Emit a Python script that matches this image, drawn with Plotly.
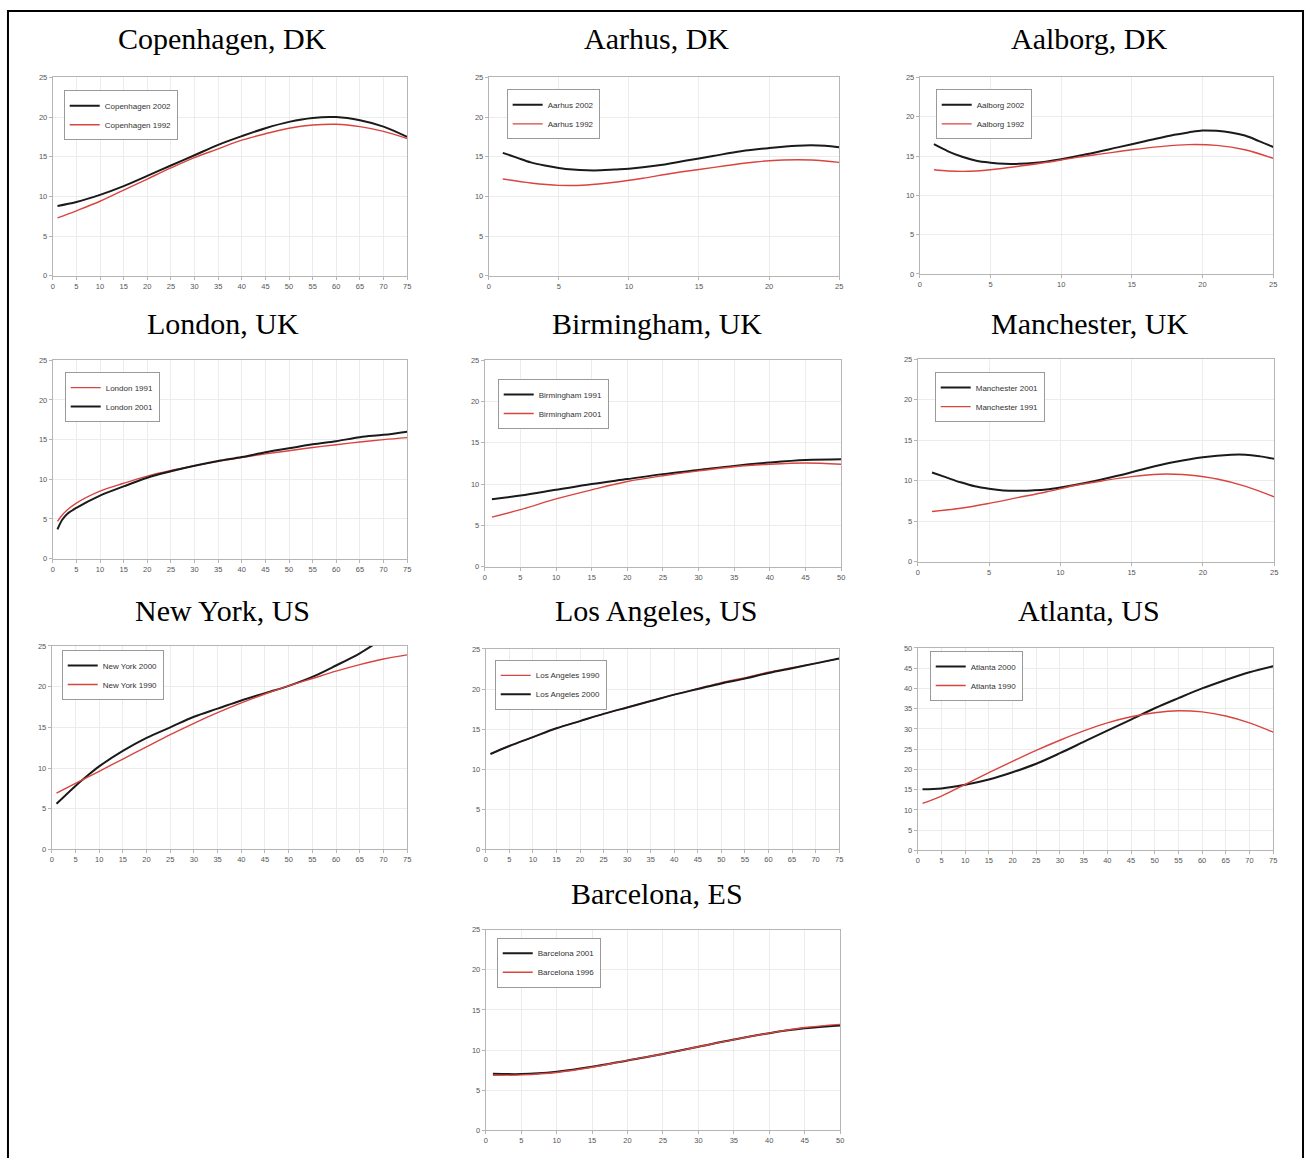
import plotly.graph_objects as go

W, H = 1311, 1158

# ---------------- data ----------------
cph_x = [1, 5, 10, 15, 20, 25, 30, 35, 40, 45, 50, 55, 60, 65, 70, 75]
cph_2002 = [8.8, 9.3, 10.2, 11.3, 12.6, 13.9, 15.2, 16.5, 17.6, 18.6, 19.4, 19.9, 20.0, 19.6, 18.8, 17.5]
cph_1992 = [7.3, 8.2, 9.4, 10.8, 12.2, 13.6, 14.9, 16.0, 17.1, 17.9, 18.6, 19.0, 19.1, 18.8, 18.2, 17.3]

aar_x_2002 = [1, 2, 3, 4, 5, 6, 7, 8, 9, 10, 12, 14, 16, 18, 20, 22, 23, 24, 25]
aar_2002 = [15.5, 14.9, 14.3, 13.9, 13.6, 13.4, 13.3, 13.3, 13.4, 13.5, 13.9, 14.5, 15.1, 15.7, 16.1, 16.4, 16.45, 16.4, 16.2]
aar_x_1992 = [1, 3, 5, 7, 9, 11, 13, 15, 17, 19, 21, 23, 25]
aar_1992 = [12.2, 11.7, 11.4, 11.45, 11.8, 12.3, 12.9, 13.4, 13.9, 14.35, 14.6, 14.6, 14.3]

aal_x_2002 = [1, 2, 3, 4, 5, 6, 7, 8, 10, 12, 14, 16, 18, 19, 20, 21, 22, 23, 24, 25]
aal_2002 = [16.5, 15.6, 14.9, 14.4, 14.15, 14.0, 14.0, 14.1, 14.6, 15.3, 16.1, 16.9, 17.7, 18.0, 18.25, 18.2, 18.0, 17.6, 16.9, 16.15]
aal_x_1992 = [1, 2, 3, 4, 5, 7, 9, 11, 13, 15, 17, 19, 21, 23, 25]
aal_1992 = [13.25, 13.1, 13.05, 13.1, 13.25, 13.7, 14.2, 14.8, 15.3, 15.8, 16.2, 16.45, 16.35, 15.8, 14.7]

lon_x = [1, 2, 3, 5, 10, 15, 20, 25, 30, 35, 40, 45, 50, 55, 60, 65, 70, 75]
lon_1991 = [4.7, 5.5, 6.1, 7.0, 8.5, 9.5, 10.4, 11.1, 11.7, 12.25, 12.75, 13.2, 13.6, 14.0, 14.35, 14.7, 15.0, 15.25]
lon_2001 = [3.7, 4.9, 5.6, 6.4, 7.95, 9.1, 10.2, 11.0, 11.7, 12.3, 12.8, 13.4, 13.9, 14.4, 14.8, 15.3, 15.6, 16.0]

bir_x = [1, 5, 10, 15, 20, 25, 30, 35, 40, 45, 50]
bir_1991 = [8.15, 8.6, 9.3, 10.0, 10.6, 11.2, 11.7, 12.2, 12.6, 12.9, 13.0]
bir_2001 = [6.0, 6.9, 8.2, 9.3, 10.3, 11.0, 11.6, 12.1, 12.4, 12.55, 12.4]

man_x_2001 = [1, 2, 3, 4, 5, 6, 7, 8, 9, 10, 12, 14, 16, 18, 20, 22, 23, 24, 25]
man_2001 = [11.0, 10.4, 9.8, 9.3, 9.0, 8.8, 8.75, 8.8, 8.9, 9.15, 9.8, 10.6, 11.5, 12.3, 12.9, 13.2, 13.2, 13.0, 12.7]
man_x_1991 = [1, 3, 5, 7, 9, 11, 13, 15, 17, 18, 19, 21, 23, 25]
man_1991 = [6.2, 6.6, 7.2, 7.9, 8.6, 9.4, 10.0, 10.5, 10.8, 10.8, 10.7, 10.2, 9.3, 8.0]

ny_x_2000 = [1, 5, 7, 10, 15, 20, 25, 30, 35, 40, 45, 50, 55, 60, 65, 68]
ny_2000 = [5.6, 7.8, 8.8, 10.2, 12.1, 13.7, 15.0, 16.3, 17.3, 18.3, 19.2, 20.1, 21.2, 22.6, 24.1, 25.2]
ny_x_1990 = [1, 5, 10, 15, 20, 25, 30, 35, 40, 45, 50, 55, 60, 65, 70, 75]
ny_1990 = [6.9, 8.1, 9.6, 11.1, 12.6, 14.1, 15.5, 16.8, 18.0, 19.1, 20.1, 21.0, 21.9, 22.7, 23.4, 23.9]

la_x = [1, 5, 10, 15, 20, 25, 30, 35, 40, 45, 50, 55, 60, 65, 70, 75]
la_1990 = [11.9, 12.9, 14.0, 15.1, 16.0, 16.9, 17.7, 18.5, 19.3, 20.05, 20.8, 21.4, 22.1, 22.65, 23.2, 23.8]
la_2000 = [11.9, 12.9, 14.0, 15.1, 16.0, 16.9, 17.7, 18.5, 19.3, 20.0, 20.7, 21.3, 22.0, 22.6, 23.2, 23.8]

atl_x = [1, 5, 10, 15, 20, 25, 30, 35, 40, 45, 50, 55, 60, 65, 70, 75]
atl_2000 = [15.1, 15.3, 16.2, 17.5, 19.3, 21.4, 24.0, 26.8, 29.6, 32.3, 35.1, 37.6, 40.0, 42.1, 44.0, 45.5]
atl_1990 = [11.6, 13.4, 16.3, 19.2, 22.0, 24.7, 27.2, 29.5, 31.5, 33.0, 34.0, 34.5, 34.2, 33.2, 31.5, 29.2]

bcn_x = [1, 5, 10, 15, 20, 25, 30, 35, 40, 45, 50]
bcn_2001 = [7.05, 7.0, 7.3, 7.9, 8.7, 9.5, 10.4, 11.3, 12.1, 12.7, 13.05]
bcn_1996 = [6.85, 6.9, 7.2, 7.85, 8.7, 9.5, 10.4, 11.3, 12.1, 12.8, 13.2]

titles = ["Copenhagen, DK", "Aarhus, DK", "Aalborg, DK",
          "London, UK", "Birmingham, UK", "Manchester, UK",
          "New York, US", "Los Angeles, US", "Atlanta, US",
          "Barcelona, ES"]
x_max = [75, 25, 25, 75, 50, 25, 75, 75, 75, 50]
y_max = [25, 25, 25, 25, 25, 25, 25, 25, 50, 25]

# series per panel: (name, x, y, colour key) in legend / drawing order
series = [
    [("Copenhagen 2002", cph_x, cph_2002, "k"), ("Copenhagen 1992", cph_x, cph_1992, "r")],
    [("Aarhus 2002", aar_x_2002, aar_2002, "k"), ("Aarhus 1992", aar_x_1992, aar_1992, "r")],
    [("Aalborg 2002", aal_x_2002, aal_2002, "k"), ("Aalborg 1992", aal_x_1992, aal_1992, "r")],
    [("London 1991", lon_x, lon_1991, "r"), ("London 2001", lon_x, lon_2001, "k")],
    [("Birmingham 1991", bir_x, bir_1991, "k"), ("Birmingham 2001", bir_x, bir_2001, "r")],
    [("Manchester 2001", man_x_2001, man_2001, "k"), ("Manchester 1991", man_x_1991, man_1991, "r")],
    [("New York 2000", ny_x_2000, ny_2000, "k"), ("New York 1990", ny_x_1990, ny_1990, "r")],
    [("Los Angeles 1990", la_x, la_1990, "r"), ("Los Angeles 2000", la_x, la_2000, "k")],
    [("Atlanta 2000", atl_x, atl_2000, "k"), ("Atlanta 1990", atl_x, atl_1990, "r")],
    [("Barcelona 2001", bcn_x, bcn_2001, "k"), ("Barcelona 1996", bcn_x, bcn_1996, "r")],
]

# ---------------- layout geometry (pixels) ----------------
# (left, right, top, bottom) of each plot area
boxes = [(51, 407, 74, 274), (489, 841, 74, 274), (922, 1277, 74, 272),
         (51, 407, 359, 559), (485, 843, 359, 567), (920, 1278, 358, 562),
         (50, 407, 647, 852), (486, 841, 650, 852), (920, 1277, 649, 853),
         (486, 842, 933, 1135)]
title_pos = [(222, 35), (658, 35), (1092, 35),
             (222, 322), (658, 322), (1092, 322),
             (222, 611), (658, 611), (1092, 611),
             (658, 896)]
legend_off = [(11, 13), (18, 12), (16, 12), (12, 12), (13, 19),
              (17, 13), (10, 4), (9, 11), (12, 3), (11, 8)]

colors = {"k": "#1a1a1a", "r": "#d9443f"}
widths = {"k": 2.0, "r": 1.4}

fig = go.Figure()
layout = dict(
    width=W, height=H,
    margin=dict(l=0, r=0, t=0, b=0),
    paper_bgcolor="white", plot_bgcolor="white",
    showlegend=True,
    annotations=[], shapes=[],
    font=dict(family="Liberation Sans, Arial", size=8, color="#555"),
)

for i in range(10):
    sfx = "" if i == 0 else str(i + 1)
    L, R, T, B = boxes[i]
    leg = "legend" if i == 0 else "legend" + str(i + 1)
    for name, xs, ys, c in series[i]:
        fig.add_trace(go.Scatter(
            x=xs, y=ys, name=name, mode="lines",
            line=dict(color=colors[c], width=widths[c], shape="spline", smoothing=1.0),
            xaxis="x" + sfx, yaxis="y" + sfx, legend=leg,
        ))
    axis_common = dict(
        showgrid=True, gridcolor="#ececec", gridwidth=1,
        showline=True, linecolor="#b5b5b5", linewidth=1, mirror=True,
        ticks="outside", ticklen=3, tickcolor="#b5b5b5",
        tickfont=dict(family="Liberation Sans, Arial", size=7.5, color="#555"),
        zeroline=False, fixedrange=True,
    )
    layout["xaxis" + sfx] = dict(
        axis_common, domain=[L / W, R / W], range=[0, x_max[i]],
        tickmode="linear", tick0=0, dtick=5,
        anchor="y" + sfx,
    )
    layout["yaxis" + sfx] = dict(
        axis_common, domain=[1 - B / H, 1 - T / H], range=[0, y_max[i]],
        tickmode="linear", tick0=0, dtick=5,
        anchor="x" + sfx,
    )
    dx, dy = legend_off[i]
    layout[leg] = dict(
        x=(L + dx) / W, y=1 - (T + dy) / H, xanchor="left", yanchor="top",
        xref="paper", yref="paper",
        bgcolor="white", bordercolor="#9a9a9a", borderwidth=1,
        font=dict(family="Liberation Sans, Arial", size=8, color="#333"),
        itemwidth=30, tracegroupgap=0,
    )
    tx, ty = title_pos[i]
    layout["annotations"].append(dict(
        text=titles[i], x=tx / W, y=1 - ty / H, xref="paper", yref="paper",
        xanchor="center", yanchor="middle", showarrow=False,
        font=dict(family="Liberation Serif, Times New Roman, serif", size=30, color="black"),
    ))

layout["shapes"].append(dict(
    type="rect", xref="paper", yref="paper",
    x0=6 / W, x1=1307 / W, y0=-0.05, y1=1 - 7 / H,
    line=dict(color="black", width=2), fillcolor="rgba(0,0,0,0)", layer="above",
))

fig.update_layout(**layout)
fig.write_html("out.html",
               config={"displayModeBar": False},
               post_script="document.body.style.margin='0';document.body.style.padding='0';")
